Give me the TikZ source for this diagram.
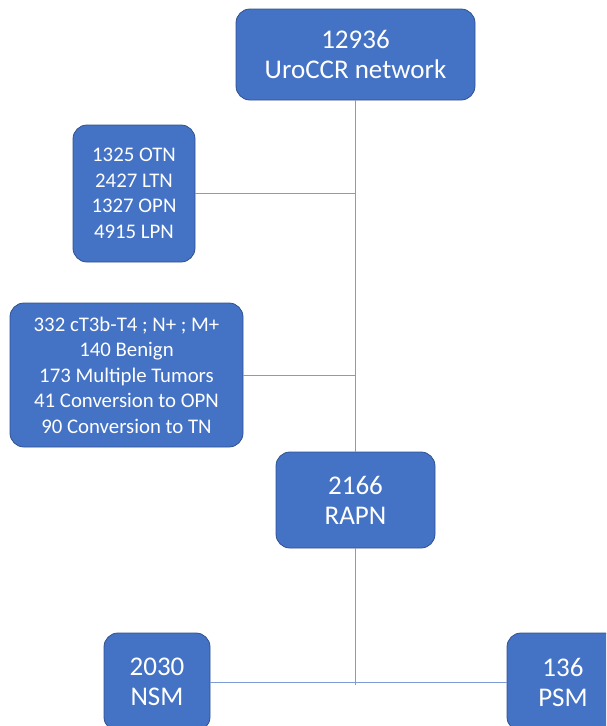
\documentclass[tikz,border=0pt]{standalone}
\usepackage{fontspec}
\setmainfont{Carlito}
\usepackage{tikz}
\definecolor{boxblue}{HTML}{4472C4}
\definecolor{boxedge}{HTML}{2F528F}
\definecolor{linkblue}{HTML}{7D9CD6}

\begin{document}
\begin{tikzpicture}[x=1pt, y=-1pt,
    every node/.style={rectangle, rounded corners=14pt, fill=boxblue, draw=boxedge, line width=0.8pt, text=white, align=center, inner sep=0pt},
    big/.style={font=\fontsize{27}{30}\selectfont},
    small/.style={font=\fontsize{20.8}{25.5}\selectfont},
    link/.style={draw=linkblue, line width=0.8pt}]
        \useasboundingbox (0, 0) rectangle (606, 726);
        \clip (0, 0) rectangle (606, 726);
        \draw (355.5, 54.5) node(network)[big, minimum width=239pt, minimum height=91pt]{12936\\UroCCR network};
        \draw (134, 193.5) node(approach)[small, minimum width=122pt, minimum height=137pt]{1325 OTN\\2427 LTN\\1327 OPN\\4915 LPN};
        \draw (126.5, 375) node(excluded)[small, minimum width=233pt, minimum height=144pt]{332 cT3b-T4 ; N+ ; M+\\140 Benign\\173 Multiple Tumors\\41 Conversion to OPN\\90 Conversion to TN};
        \draw (355.5, 500) node(rapn)[big, minimum width=159pt, minimum height=96pt]{2166\\RAPN};
        \draw (157, 682) node(nsm)[big, minimum width=106pt, minimum height=98pt]{2030\\NSM};
        \draw (563, 682) node(psm)[big, minimum width=112pt, minimum height=98pt]{136\\PSM};
        \coordinate (end) at (355.5, 685);
        \draw[link] (network) -- (rapn);
        \draw[link] (approach.east) -- (approach.east -| network.south);
        \draw[link] (excluded.east) -- (excluded.east -| network.south);
        \draw[link] (rapn) -- (end);
        \draw[link] (nsm) -- (psm);
    \end{tikzpicture}
\end{document}
